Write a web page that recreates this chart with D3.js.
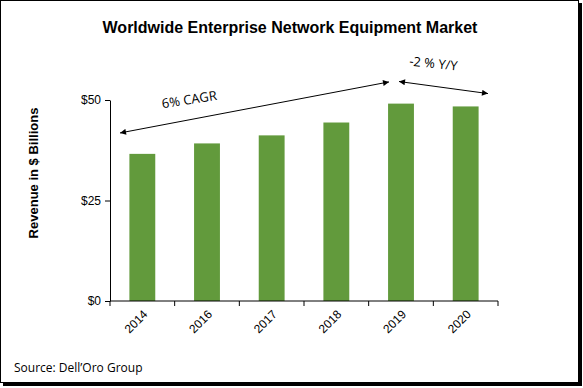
<!DOCTYPE html>
<html>
<head>
<meta charset="utf-8">
<script src="https://cdn.jsdelivr.net/npm/d3@7"></script>
<style>
  body { margin: 0; background: #fff; }
  svg { display: block; }
</style>
</head>
<body>
<script>
const width = 583;
const height = 388;

// data
const years = ['2014', '2016', '2017', '2018', '2019', '2020'];
const revenue = [36.6, 39.2, 41.2, 44.4, 49.1, 48.4];
const yTicks = [0, 25, 50];

const margin = { top: 100, right: 85, bottom: 87, left: 110 };

const x = d3.scaleBand()
  .domain(years)
  .range([margin.left, width - margin.right])
  .paddingInner(0.6)
  .paddingOuter(0.3);
const y = d3.scaleLinear()
  .domain([0, 50])
  .range([height - margin.bottom, margin.top]);

const svg = d3.select('body').append('svg')
  .attr('width', width)
  .attr('height', height);

// frame with shadow
svg.append('rect')
  .attr('x', 3).attr('y', 3)
  .attr('width', 579).attr('height', 383)
  .attr('fill', '#000');
svg.append('rect')
  .attr('x', 0.5).attr('y', 0.5)
  .attr('width', 578).attr('height', 382)
  .attr('fill', '#fff')
  .attr('stroke', '#000');

// title
svg.append('text')
  .attr('x', 290).attr('y', 33)
  .attr('text-anchor', 'middle')
  .style('font', 'bold 16px "Liberation Sans", Arial, sans-serif')
  .text('Worldwide Enterprise Network Equipment Market');

// bars
svg.append('g')
  .attr('fill', '#629a3c')
  .selectAll('rect')
  .data(years)
  .join('rect')
  .attr('x', d => x(d))
  .attr('y', (d, i) => y(revenue[i]))
  .attr('width', x.bandwidth())
  .attr('height', (d, i) => y(0) - y(revenue[i]));

// y axis
const gy = svg.append('g')
  .attr('transform', `translate(${margin.left},0)`)
  .call(d3.axisLeft(y).tickValues(yTicks).tickFormat(d => '$' + d).tickSize(5).tickSizeOuter(0));
gy.selectAll('.tick text')
  .attr('x', -9)
  .style('font', '12px "Liberation Sans", Arial, sans-serif')
  .attr('fill', '#000');

// x axis, ticks at band edges
const edges = years.map(d => x(d) - x.step() * x.paddingInner() / 2);
edges.push(width - margin.right);
const gx = svg.append('g')
  .attr('transform', `translate(0,${y(0)})`);
gx.append('line')
  .attr('x1', margin.left).attr('x2', width - margin.right)
  .attr('stroke', '#000');
gx.selectAll('.edge')
  .data(edges)
  .join('line')
  .attr('class', 'edge')
  .attr('x1', d => d).attr('x2', d => d)
  .attr('y1', 0).attr('y2', 5)
  .attr('stroke', '#000');
gx.selectAll('.lbl')
  .data(years)
  .join('text')
  .attr('class', 'lbl')
  .attr('text-anchor', 'end')
  .attr('transform', d => `translate(${x(d) + x.bandwidth() / 2 + 6},${14}) rotate(-45)`)
  .style('font', '12px "Liberation Sans", Arial, sans-serif')
  .text(d => d);

// y label
svg.append('text')
  .attr('transform', 'translate(38,173) rotate(-90)')
  .attr('text-anchor', 'middle')
  .style('font', 'bold 13px "Liberation Sans", Arial, sans-serif')
  .text('Revenue in $ Billions');

// annotations
const defs = svg.append('defs');
defs.append('marker')
  .attr('id', 'ah')
  .attr('viewBox', '0 0 10 10')
  .attr('refX', 10).attr('refY', 5)
  .attr('markerWidth', 8).attr('markerHeight', 6)
  .attr('markerUnits', 'userSpaceOnUse')
  .attr('orient', 'auto-start-reverse')
  .append('path')
  .attr('d', 'M0,0 L10,5 L0,10 Z')
  .attr('fill', '#000');

svg.append('line')
  .attr('x1', 120).attr('y1', y(41.8))
  .attr('x2', 389).attr('y2', y(54.5))
  .attr('stroke', '#000')
  .attr('marker-start', 'url(#ah)')
  .attr('marker-end', 'url(#ah)');
svg.append('line')
  .attr('x1', 399).attr('y1', y(54.6))
  .attr('x2', 488).attr('y2', y(51.6))
  .attr('stroke', '#000')
  .attr('marker-start', 'url(#ah)')
  .attr('marker-end', 'url(#ah)');

svg.append('text')
  .attr('transform', 'translate(190,104) rotate(-9)')
  .attr('text-anchor', 'middle')
  .style('font', '13px "Open Sans", "Liberation Sans", sans-serif')
  .text('6% CAGR');
svg.append('text')
  .attr('transform', 'translate(433,68) rotate(6)')
  .attr('text-anchor', 'middle')
  .style('font', '13px "Open Sans", "Liberation Sans", sans-serif')
  .text('-2 % Y/Y');

// source
svg.append('text')
  .attr('x', 14).attr('y', 372)
  .style('font', '12px "Open Sans", "Liberation Sans", sans-serif')
  .text('Source: Dell\u2019Oro Group');
</script>
</body>
</html>
